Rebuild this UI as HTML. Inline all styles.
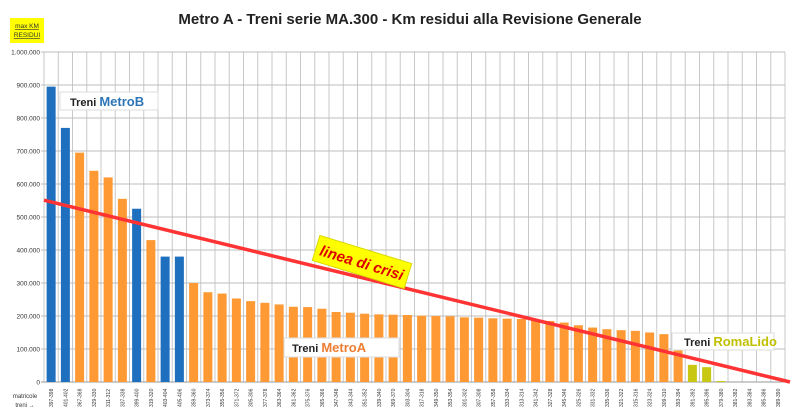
<!DOCTYPE html>
<html><head><meta charset="utf-8"><style>
body{margin:0;background:#fff;font-family:"Liberation Sans",sans-serif}
svg{display:block}
</style></head><body>
<svg id="c" width="800" height="418" xmlns="http://www.w3.org/2000/svg">
<text x="410" y="24" text-anchor="middle" font-size="15" font-weight="bold" fill="#222">Metro A  -  Treni serie MA.300  -  Km residui alla Revisione Generale</text>
<rect x="10" y="18" width="34" height="25" fill="#ffff00"/>
<text x="27" y="28" text-anchor="middle" font-size="6.5" fill="#333" text-decoration="underline">max KM</text>
<text x="27" y="37" text-anchor="middle" font-size="6.5" fill="#333" text-decoration="underline">RESIDUI</text>
<g id="grid"></g><g id="bars"></g><g id="ticks"></g><g id="xl"></g>
<text x="25" y="398" text-anchor="middle" font-size="6" fill="#333">matricole</text>
<text x="25" y="407" text-anchor="middle" font-size="6" fill="#333">treni →</text>
<g><rect x="60" y="92" width="98" height="18" fill="#fff" stroke="#ddd"/><text x="70" y="106" font-size="11" font-weight="bold" fill="#222">Treni <tspan fill="#2e75b6" font-size="13">MetroB</tspan></text></g>
<g><rect x="284" y="338" width="115" height="19" fill="#fff" stroke="#ddd"/><text x="292" y="352" font-size="11" font-weight="bold" fill="#222">Treni <tspan fill="#ed7d31" font-size="13">MetroA</tspan></text></g>
<g><rect x="672" y="333" width="102" height="17" fill="#fff" stroke="#ddd"/><text x="684" y="346" font-size="11" font-weight="bold" fill="#222">Treni <tspan fill="#c0c000" font-size="13">RomaLido</tspan></text></g>
<line id="crisis" stroke="#ff3333" stroke-width="3.5"/>
<g transform="translate(362,262) rotate(17)"><rect x="-48" y="-13" width="96" height="26" fill="#ffff00" stroke="#d8d800"/><text x="0" y="6" text-anchor="middle" font-size="15" font-weight="bold" font-style="italic" fill="#dd0000">linea di crisi</text></g>
</svg>
<script>
const categories=["397-398","401-402","367-368","329-330","311-312","337-338","399-400","319-320","403-404","405-406","359-360","373-374","355-356","371-372","305-306","377-378","363-364","361-362","375-376","365-366","347-348","343-344","351-352","339-340","369-370","303-304","317-318","349-350","353-354","301-302","307-308","357-358","333-334","313-314","341-342","327-328","345-346","325-326","331-332","335-336","321-322","315-316","323-324","309-310","393-394","391-392","395-396","379-380","381-382","383-384","385-386","389-390"];
const kmValues=[895000,770000,695000,640000,620000,555000,525000,430000,380000,380000,300000,272000,268000,253000,245000,240000,235000,228000,227000,222000,212000,210000,207000,205000,204000,203000,201000,200000,199000,196000,195000,193000,192000,191000,188000,185000,180000,172000,165000,160000,157000,155000,150000,145000,130000,52000,45000,3000,0,0,0,0];
const fleet=["B","B","A","A","A","A","B","A","B","B","A","A","A","A","A","A","A","A","A","A","A","A","A","A","A","A","A","A","A","A","A","A","A","A","A","A","A","A","A","A","A","A","A","A","A","L","L","L","L","L","L","L"];
const yTicks=[0,100000,200000,300000,400000,500000,600000,700000,800000,900000,1000000];
const crisisStart=551000, crisisEnd=0;
const NS="http://www.w3.org/2000/svg";
const X0=44,SLOT=14.25,Y0=382,YMAX=1000000,YH=330;
const y=v=>Y0-v/YMAX*YH;
const xc=i=>X0+SLOT*(i+0.5);
const colors={A:"#ff9933",B:"#1f6fbf",L:"#c8c814"};
function mk(t,a,p){const e=document.createElementNS(NS,t);for(const k in a)e.setAttribute(k,a[k]);p.appendChild(e);return e;}
const grid=document.getElementById('grid'),bars=document.getElementById('bars'),ticks=document.getElementById('ticks'),xl=document.getElementById('xl');
const XR=X0+SLOT*categories.length;
for(let i=0;i<=categories.length;i++){const l=mk('line',{x1:X0+SLOT*i,x2:X0+SLOT*i,y1:y(YMAX),y2:Y0,stroke:"#c8c8c8","stroke-width":1},grid);

}
yTicks.forEach(v=>{const l=mk('line',{x1:X0-3,x2:XR,y1:y(v),y2:y(v),stroke:v?"#bdbdbd":"#999","stroke-width":1},grid);


const t=mk('text',{x:X0-4,y:y(v)+2.5,"text-anchor":"end","font-size":6.5,fill:"#333"},ticks);
t.textContent=v.toLocaleString('de-DE');

});
kmValues.forEach((v,i)=>{const r=mk('rect',{x:xc(i)-4.5,y:y(v),width:9,height:Y0-y(v),fill:colors[fleet[i]]},bars);


const t=mk('text',{transform:`translate(${xc(i)+2},${Y0+25}) rotate(-90)`,"font-size":5,fill:"#333"},xl);
t.textContent=categories[i];

});
const cl=document.getElementById('crisis');
cl.setAttribute('x1',X0);cl.setAttribute('y1',y(crisisStart));cl.setAttribute('x2',790);cl.setAttribute('y2',y(crisisEnd));
</script>
</body></html>
